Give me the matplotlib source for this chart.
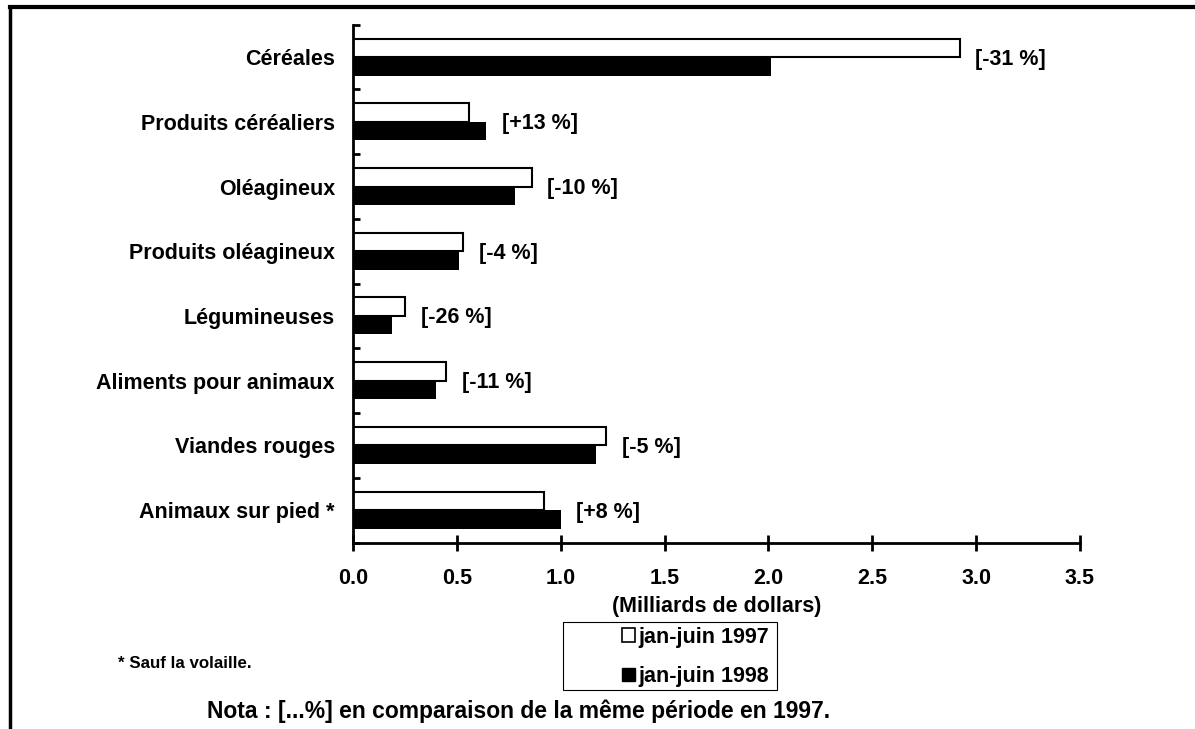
import numpy as np
import matplotlib.pyplot as plt
from matplotlib.lines import Line2D
from matplotlib.patches import Patch, Rectangle

plt.rcParams['font.family'] = ['Liberation Sans', 'DejaVu Sans']
plt.rcParams['font.weight'] = 'bold'

categories = ['Céréales', 'Produits céréaliers', 'Oléagineux', 'Produits oléagineux',
              'Légumineuses', 'Aliments pour animaux', 'Viandes rouges', 'Animaux sur pied *']
jan_jun_1997 = [2.92, 0.56, 0.86, 0.53, 0.25, 0.45, 1.22, 0.92]
jan_jun_1998 = [2.01, 0.64, 0.78, 0.51, 0.19, 0.40, 1.17, 1.00]
changes = ['[-31 %]', '[+13 %]', '[-10 %]', '[-4 %]', '[-26 %]', '[-11 %]', '[-5 %]', '[+8 %]']

fs = 15.5
fig = plt.figure(figsize=(11.95, 7.29), dpi=100)
ax = fig.add_axes([0.2954, 0.2558, 0.6084, 0.7103])

y = np.arange(len(categories))
h = 0.286
ax.barh(y - h / 2, jan_jun_1997, height=h, color='white', edgecolor='black', linewidth=1.5)
ax.barh(y + h / 2, jan_jun_1998, height=h, color='black', edgecolor='black', linewidth=0)

for i in range(len(categories)):
    x = max(jan_jun_1997[i], jan_jun_1998[i]) + 0.075
    ax.text(x, y[i] + 0.03, changes[i], va='center', ha='left', fontsize=fs, fontweight='bold')

ax.set_xlim(0, 3.5)
ax.set_ylim(7.5, -0.5)
ax.set_xticks(np.arange(0, 3.51, 0.5))
ax.set_xticklabels(['%.1f' % v for v in np.arange(0, 3.51, 0.5)], fontsize=fs, fontweight='bold')
ax.set_yticks(np.arange(-0.5, 7.6, 1), minor=False)
ax.set_yticklabels([])
ax.set_yticks(y, minor=True)
ax.set_yticklabels(categories, minor=True, fontsize=fs, fontweight='bold')
ax.tick_params(axis='y', which='major', direction='in', length=5, width=2)
ax.tick_params(axis='y', which='minor', length=0, pad=13)
ax.tick_params(axis='x', direction='inout', length=12, width=2, pad=12)
ax.set_xlabel('(Milliards de dollars)', fontsize=fs, fontweight='bold', labelpad=5.5)

for s in ['top', 'right']:
    ax.spines[s].set_visible(False)
for s in ['left', 'bottom']:
    ax.spines[s].set_linewidth(2)

# legend box drawn separately, entries sit to the right inside it
fig.add_artist(Rectangle((563 / 1195, 1 - 690 / 729), 214 / 1195, 68 / 729,
                         transform=fig.transFigure, facecolor='white',
                         edgecolor='black', linewidth=0.8))
handles = [Patch(facecolor='white', edgecolor='black', linewidth=1.2),
           Patch(facecolor='black', edgecolor='black')]
leg = fig.legend(handles, ['jan-juin 1997', 'jan-juin 1998'], loc='center left',
                 bbox_to_anchor=(605 / 1195, 1 - 657 / 729), fontsize=fs,
                 handlelength=0.6, handleheight=0.6, handletextpad=0.15,
                 labelspacing=0.85, borderpad=0.3, frameon=False)
for t in leg.get_texts():
    t.set_fontweight('bold')

fig.text(118 / 1195, 1 - 664 / 729, '* Sauf la volaille.', fontsize=12.2, fontweight='bold', va='center')
fig.text(519 / 1195, 1 - 711 / 729, 'Nota : [...%] en comparaison de la même période en 1997.',
         fontsize=16.5, fontweight='bold', va='center', ha='center')

# outer frame (top and left only)
fig.add_artist(Line2D([10 / 1195, 1], [1 - 7 / 729, 1 - 7 / 729], color='black', linewidth=3))
fig.add_artist(Line2D([10 / 1195, 10 / 1195], [0, 1 - 7 / 729], color='black', linewidth=2.5))

fig.savefig('out.png', dpi=100)
